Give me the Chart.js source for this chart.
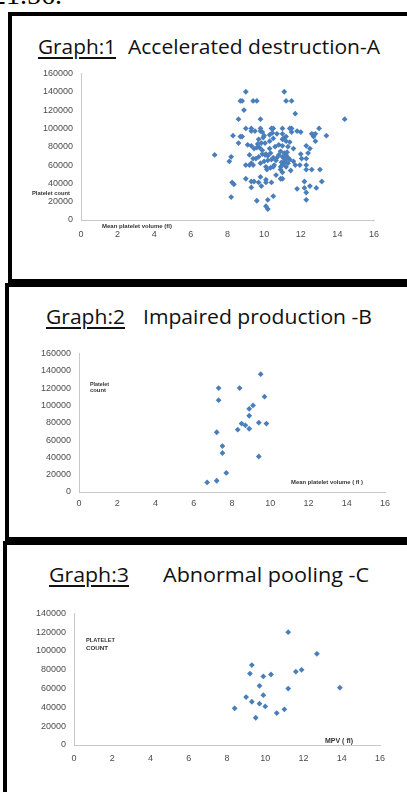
<!DOCTYPE html>
<html><head><meta charset="utf-8">
<script src="https://cdn.jsdelivr.net/npm/chart.js@4"></script>
<style>
html,body{margin:0;padding:0;background:#fff;}
body{width:407px;height:792px;overflow:hidden;position:relative;}
.box{position:absolute;border:4px solid #000;box-sizing:border-box;}
.t{position:absolute;white-space:nowrap;}
canvas{position:absolute;}
</style></head><body>
<div class="box" style="left:8px;top:12px;width:500px;height:271px;"></div>
<div class="box" style="left:5px;top:283px;width:500px;height:258px;"></div>
<div class="box" style="left:3px;top:541px;width:500px;height:300px;"></div>
<script>
// ---- data ----
const xTicks = [0, 2, 4, 6, 8, 10, 12, 14, 16];
const yTicksAB = [0, 20000, 40000, 60000, 80000, 100000, 120000, 140000, 160000];
const yTicksC = [0, 20000, 40000, 60000, 80000, 100000, 120000, 140000];

const graph1Mpv = [9.0,8.7,8.8,9.4,9.6,11.1,11.2,11.5,8.9,11.7,8.6,9.8,14.4,9.0,9.3,9.8,10.4,10.5,11.0,11.4,11.5,13.0,8.3,8.7,8.8,9.3,9.5,9.8,9.9,11.8,12.0,11.5,13.4,12.6,12.7,12.8,12.7,12.8,12.5,12.3,8.6,9.1,9.3,9.45,9.6,9.75,9.95,10.05,9.85,10.3,10.5,10.7,11.0,11.05,11.2,11.2,10.8,11.0,11.4,11.6,7.3,8.2,8.1,9.2,9.9,10.05,10.1,10.2,10.35,10.7,10.65,11.0,11.1,11.2,11.3,11.4,11.6,12.0,12.05,12.3,12.4,9.4,9.55,9.7,9.8,10.4,10.5,9.0,9.2,9.3,9.4,10.0,10.1,10.35,10.5,10.9,11.0,11.1,11.7,11.95,12.3,10.9,11.0,11.45,12.3,12.6,13.05,10.15,9.8,10.65,10.9,11.0,9.0,9.3,9.45,9.7,10.1,10.1,10.4,8.25,8.35,9.3,9.85,12.2,13.15,12.2,12.5,12.85,12.3,11.8,8.2,9.6,10.2,10.5,12.3,10.1,10.2,10.6,10.9,11.1,11.3,10.2,9.7,10.0,10.3,11.2,10.95,10.3,9.65,11.3,10.8,11.0,10.45,11.15,9.9,10.55,11.25];
const graph1Platelets = [140000,130000,130000,130000,130000,140000,130000,130000,120000,116000,110000,110000,110000,100000,100000,100000,100000,100000,100000,100000,100000,100000,92000,91000,91000,97000,97000,97000,96000,97000,96000,96000,92000,94000,93000,94000,91000,86000,78000,81000,84000,82000,81000,78000,79000,79000,90000,84000,84000,86000,89000,94000,94000,89000,91000,86000,82000,81000,85000,78000,71000,69000,64000,71000,72000,71000,72000,70000,73000,68000,65000,69000,67000,71000,68000,66000,64000,72000,67000,67000,73000,67000,67000,69000,62000,66000,68000,60000,60000,62000,60000,64000,58000,57000,58000,58000,60000,62000,60000,60000,60000,55000,52000,54000,55000,55000,55000,55000,47000,49000,45000,45000,45000,42000,42000,41000,44000,41000,41000,41000,39000,35500,37000,42000,42000,35000,37000,35000,30000,34000,25000,21000,22000,26000,22000,15000,12000,80000,75000,73000,62000,65000,88000,92000,93000,58000,63000,78000,83000,80000,71000,88000,95000,65000,76000,60000,74000];

const graph2Mpv = [9.5,7.3,8.4,7.3,9.7,9.1,8.9,8.9,9.4,9.8,8.5,8.7,8.3,8.9,7.2,7.5,7.5,9.4,7.7,7.2,6.7];
const graph2Platelets = [136000,120000,120000,106000,110000,100000,96000,88000,80000,79000,79000,77000,72000,73000,69000,53000,45000,41000,22000,13000,11000];

const graph3Mpv = [11.2,12.7,9.3,9.2,9.9,10.3,11.6,11.9,9.7,11.2,13.9,9.9,9.0,9.3,9.7,10.0,8.4,11.0,10.6,9.5];
const graph3Platelets = [120000,97000,85000,76000,73000,75000,78000,80000,63000,60000,61000,53000,51000,46000,44000,41000,39000,38000,34000,29000];

// ---- helpers ----
function addText(str, left, baseline, width, opts) {
  const s = document.createElement('span');
  s.className = 't';
  s.textContent = str;
  const size = opts.size;
  s.style.fontFamily = opts.family;
  s.style.fontSize = size + 'px';
  s.style.lineHeight = size + 'px';
  s.style.color = opts.color || '#000';
  if (opts.weight) s.style.fontWeight = opts.weight;
  if (opts.underline) {
    s.style.textDecoration = 'underline';
    s.style.textUnderlineOffset = '3px';
    s.style.textDecorationThickness = '1.5px';
  }
  s.style.left = left + 'px';
  s.style.top = (baseline - opts.asc * size) + 'px';
  s.style.transformOrigin = 'left center';
  document.body.appendChild(s);
  const w = s.getBoundingClientRect().width;
  s.style.transform = 'scaleX(' + (width / w) + ')';
  return s;
}
function title(str, left, baseline, width, underline) {
  addText(str, left, baseline, width, {family: '"Open Sans"', size: 20, asc: 0.888, color: '#111', underline});
}
function small(str, left, cy, width) {
  const s = document.createElement('span');
  s.className = 't';
  s.textContent = str;
  s.style.fontFamily = '"Liberation Sans"';
  s.style.fontWeight = 'bold';
  s.style.fontSize = '10px';
  s.style.lineHeight = '10px';
  s.style.color = '#333';
  s.style.left = left + 'px';
  s.style.top = (cy - 5) + 'px';
  s.style.transformOrigin = 'left center';
  document.body.appendChild(s);
  const w = s.getBoundingClientRect().width;
  s.style.transform = 'scale(' + (width / w) + ')';
}

function makeChart(area, rect, xs, ys, yTicks, xPad, radius) {
  const c = document.createElement('canvas');
  c.width = rect.w; c.height = rect.h;
  c.style.left = rect.x + 'px'; c.style.top = rect.y + 'px';
  document.body.appendChild(c);
  const pts = xs.map((x, i) => ({x: x, y: ys[i]}));
  const tickFont = {family: '"Liberation Sans"', size: 9};
  new Chart(c, {
    type: 'scatter',
    data: {datasets: [{data: pts, pointStyle: 'rectRot', pointRadius: radius, backgroundColor: '#4a7ebb', borderColor: '#4a7ebb', borderWidth: 0}]},
    options: {
      responsive: false, animation: false, events: [],
      layout: {padding: {left: 0, top: area.top - rect.y, right: rect.x + rect.w - area.right, bottom: 0}},
      plugins: {legend: {display: false}, tooltip: {enabled: false}},
      scales: {
        x: {
          type: 'linear', min: xTicks[0], max: xTicks[xTicks.length - 1],
          afterFit(s) { s.height = rect.y + rect.h - area.bottom; },
          afterBuildTicks(s) { s.ticks = xTicks.map(v => ({value: v})); },
          grid: {display: false, drawTicks: false},
          border: {display: true, color: '#c8c8c8', width: 1},
          ticks: {padding: xPad, color: '#4d4d4d', font: tickFont, maxRotation: 0, autoSkip: false, callback: v => String(v)}
        },
        y: {
          type: 'linear', min: yTicks[0], max: yTicks[yTicks.length - 1],
          afterFit(s) { s.width = area.left - rect.x; },
          afterBuildTicks(s) { s.ticks = yTicks.map(v => ({value: v})); },
          grid: {display: false, drawTicks: false},
          border: {display: true, color: '#c8c8c8', width: 1},
          ticks: {padding: 8, color: '#4d4d4d', font: tickFont, autoSkip: false, callback: v => String(v)}
        }
      }
    }
  });
}

// partial text at very top
addText('21.56.', -8, 4, 70, {family: '"Liberation Serif"', size: 28, asc: 0.8375, color: '#000'});

// Graph 1
makeChart({left: 81, right: 374, top: 70, bottom: 220}, {x: 12, y: 60, w: 392, h: 190}, graph1Mpv, graph1Platelets, yTicksAB, 9, 2.9);
title('Graph:1', 38, 55, 78, true);
title('Accelerated destruction-A', 128, 55, 252, false);
small('Platelet count', 32, 193, 38);
small('Mean  platelet volume (fl)', 102, 226, 70);

// Graph 2
makeChart({left: 79, right: 385, top: 352, bottom: 492}, {x: 9, y: 340, w: 395, h: 180}, graph2Mpv, graph2Platelets, yTicksAB, 6, 2.9);
title('Graph:2', 46, 325, 79, true);
title('Impaired production -B', 143, 325, 229, false);
small('Platelet', 90, 384, 19);
small('count', 90, 390, 16);
small('Mean platelet volume ( fl )', 291, 482, 72);

// Graph 3
makeChart({left: 74, right: 380, top: 612, bottom: 745}, {x: 7, y: 600, w: 397, h: 170}, graph3Mpv, graph3Platelets, yTicksC, 8, 2.9);
title('Graph:3', 49, 583, 80, true);
title('Abnormal pooling -C', 163, 583, 206, false);
small('PLATELET', 86, 640, 29);
small('COUNT', 86, 648, 22);
small('MPV ( fl)', 325, 741, 28);
</script>
</body></html>
